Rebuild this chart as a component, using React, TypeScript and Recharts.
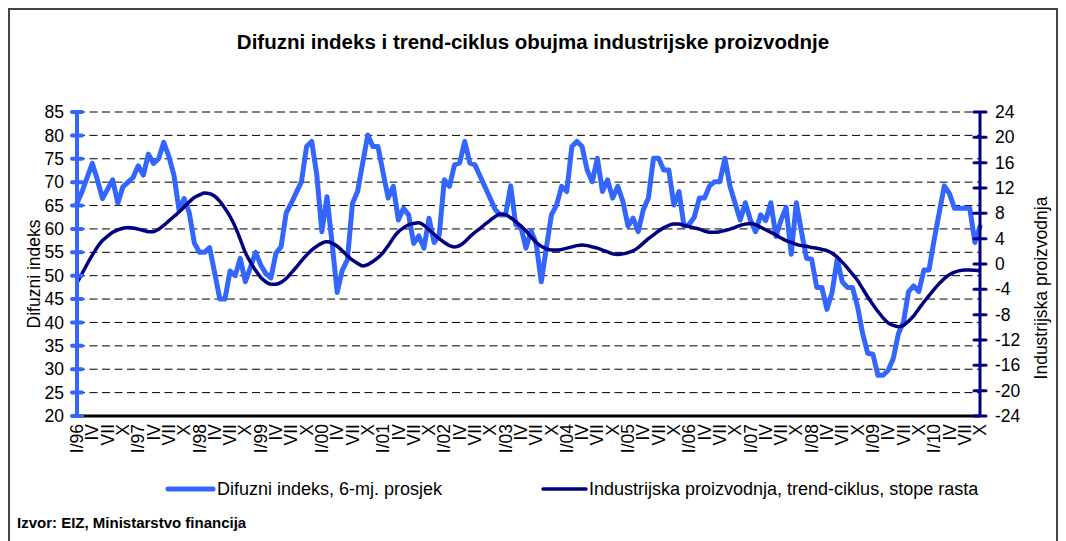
import React from 'react';
import { LineChart, Line, XAxis, YAxis, CartesianGrid } from 'recharts';

const FONT = '"Liberation Sans", Arial, Helvetica, sans-serif';

// Years covered (I/96 .. X/10), monthly observations
const years = ['96', '97', '98', '99', '00', '01', '02', '03', '04', '05', '06', '07', '08', '09', '10'];
const quarterLabels = ['I', 'IV', 'VII', 'X'];

// Difuzni indeks, 6-mj. prosjek (left axis)
const diffusionIndex = [
  65.5, 68, 71, 74, 70.5, 66.5, 68.5, 70.5, 65.5, 69, 70, 71,
  73.5, 71.5, 76, 74, 75, 78.5, 75.5, 71.5, 64, 66.5, 63.5, 57,
  55, 55, 56, 50.5, 45, 45, 51, 50, 53.7, 48.7, 51.8, 55,
  52.3, 50.5, 49.5, 54.8, 56.2, 63.4, 65.5, 67.8, 70.1, 77.6, 78.7, 71.6,
  59.4, 66.9, 57, 46.4, 51.2, 53.4, 65.5, 68, 74.1, 80.1, 77.6, 77.6,
  72, 66.6, 69.1, 61.9, 64.4, 63, 56.9, 58.5, 55.9, 62.3, 57.1, 58.7,
  70.5, 69.1, 73.7, 74.1, 78.7, 74.1, 73.7, 71.3, 68.9, 66.5, 64.1, 63,
  63, 69.2, 60.9, 60.5, 55.9, 59.6, 56.9, 48.7, 56, 63, 65.1, 69.1,
  68, 77.6, 78.7, 77.6, 72.6, 70.1, 75.1, 68, 70.5, 66.6, 69.1, 65.9,
  60.6, 62.3, 59.4, 64.1, 66.6, 75.1, 75.1, 72.6, 72.6, 65.1, 68, 60.5,
  61, 62.5, 66.6, 66.6, 69.2, 70.1, 70.1, 75.1, 69.1, 65.5, 61.9, 65.6,
  61.9, 59.4, 63, 61.8, 65.6, 58.4, 61.9, 64.6, 54.6, 65.6, 59.4, 53.7,
  53.5, 47.5, 47.5, 42.8, 46.4, 53.5, 48.7, 47.5, 47.5, 43.4, 37.6, 33.4,
  33.2, 28.7, 28.7, 29.8, 32.3, 37.6, 40.1, 46.6, 47.8, 46.6, 51.2, 51.2,
  57.6, 63.4, 69.2, 67.6, 64.4, 64.4, 64.4, 64.4, 57.1, 60.5,
];

// Industrijska proizvodnja, trend-ciklus, stope rasta (right axis)
const trendCycle = [
  -3.0, -1.5, 0.0, 1.4, 2.7, 3.7, 4.4, 5.0, 5.4, 5.65, 5.75, 5.7,
  5.5, 5.3, 5.1, 5.1, 5.5, 6.1, 6.8, 7.5, 8.2, 9.0, 9.8, 10.5,
  10.9, 11.2, 11.1, 10.7, 9.9, 8.8, 7.5, 5.9, 3.9, 1.8, 0.3, -1.0,
  -2.1, -2.8, -3.2, -3.2, -2.9, -2.3, -1.4, -0.5, 0.5, 1.4, 2.2, 2.8,
  3.3, 3.5, 3.3, 2.8, 2.1, 1.3, 0.6, 0.1, -0.3, -0.1, 0.4, 1.0,
  1.8, 2.9, 4.1, 5.1, 5.7, 6.2, 6.4, 6.5, 6.1, 5.4, 4.7, 4.0,
  3.4, 2.9, 2.7, 2.9, 3.5, 4.3, 5.0, 5.6, 6.3, 6.9, 7.5, 7.9,
  7.8, 7.3, 6.7, 6.0, 5.2, 4.3, 3.4, 2.8, 2.4, 2.2, 2.2, 2.3,
  2.5, 2.7, 2.9, 3.0, 2.9, 2.7, 2.5, 2.2, 1.9, 1.6, 1.5, 1.6,
  1.8, 2.1, 2.6, 3.3, 4.0, 4.6, 5.2, 5.7, 6.1, 6.3, 6.3, 6.1,
  5.9, 5.7, 5.5, 5.2, 5.0, 5.0, 5.1, 5.3, 5.5, 5.8, 6.1, 6.3,
  6.4, 6.2, 5.8, 5.4, 5.0, 4.6, 4.1, 3.7, 3.4, 3.1, 2.9, 2.8,
  2.6, 2.5, 2.3, 2.1, 1.7, 1.1, 0.3, -0.6, -1.6, -2.6, -3.9, -5.2,
  -6.4, -7.5, -8.5, -9.3, -9.7, -9.9, -9.7, -9.0, -8.2, -7.1, -6.0, -5.0,
  -4.0, -3.1, -2.3, -1.7, -1.3, -1.05, -0.95, -0.95, -1.0, -1.05,
];

const leftTicks = [20, 25, 30, 35, 40, 45, 50, 55, 60, 65, 70, 75, 80, 85];
const rightTicks = [-24, -20, -16, -12, -8, -4, 0, 4, 8, 12, 16, 20, 24];

const data = diffusionIndex.map((v, i) => {
  const yr = years[Math.floor(i / 12)];
  const m = i % 12;
  let label = '';
  if (m === 0) label = `${quarterLabels[0]}/${yr}`;
  else if (m === 3) label = quarterLabels[1];
  else if (m === 6) label = quarterLabels[2];
  else if (m === 9) label = quarterLabels[3];
  return { key: `${yr}-${m + 1}`, label, di: v, ip: trendCycle[i] };
});
const labelByKey: Record<string, string> = {};
data.forEach((d) => { labelByKey[d.key] = d.label; });
const tickKeys = data.filter((d) => d.label !== '').map((d) => d.key);

const BLUE = '#3366FF';
const NAVY = '#000080';
const FS = 17.5;

const XTick = (props: any) => {
  const { x, y, payload } = props;
  return (
    <text x={x} y={y} transform={`rotate(-90, ${x}, ${y})`} textAnchor="end" dy="0.35em"
      fontSize={FS} fontFamily={FONT} fill="#000">{labelByKey[payload.value]}</text>
  );
};

const LeftTick = (props: any) => {
  const { x, y, payload } = props;
  const ax = x + 13;
  return (
    <g>
      <line x1={ax - 5} x2={ax + 5} y1={y} y2={y} stroke={BLUE} strokeWidth={4} strokeLinecap="round" />
      <text x={x} y={y} dy="0.35em" textAnchor="end" fontSize={FS} fontFamily={FONT} fill="#000">{payload.value}</text>
    </g>
  );
};

const RightTick = (props: any) => {
  const { x, y, payload } = props;
  const ax = x - 15;
  return (
    <g>
      <line x1={ax - 6} x2={ax + 6} y1={y} y2={y} stroke={NAVY} strokeWidth={3} strokeLinecap="round" />
      <text x={x} y={y} dy="0.35em" textAnchor="start" fontSize={FS} fontFamily={FONT} fill="#000">{payload.value}</text>
    </g>
  );
};

const LeftTitle = () => (
  <text x={40} y={274} transform="rotate(-90, 40, 274)" textAnchor="middle" fontSize={FS} fontFamily={FONT} fill="#000">Difuzni indeks</text>
);
const RightTitle = () => (
  <text x={1047} y={288} transform="rotate(-90, 1047, 288)" textAnchor="middle" fontSize={FS} fontFamily={FONT} fill="#000">Industrijska proizvodnja</text>
);

export default function App() {
  return (
    <div style={{ position: 'fixed', left: 0, top: 0, width: 1066, height: 541, background: '#fff', overflow: 'hidden', fontFamily: FONT }}>
      <div style={{ position: 'absolute', left: 0, top: 0 }}>
        <LineChart width={1066} height={541} data={data} margin={{ top: 112, right: 26, bottom: 85, left: 17 }}>
          <CartesianGrid yAxisId="left" vertical={false} horizontal stroke="#000" strokeWidth={1} strokeDasharray="8 4.5" />
          <XAxis dataKey="key" ticks={tickKeys} interval={0} height={40} tickSize={6} tickMargin={2}
            tickLine={false} axisLine={{ stroke: '#000', strokeWidth: 3 }} tick={<XTick />} />
          <YAxis yAxisId="left" orientation="left" width={60} domain={[20, 85]} ticks={leftTicks} interval={0}
            tickSize={8} tickMargin={5} tickLine={false} axisLine={{ stroke: BLUE, strokeWidth: 4 }} tick={<LeftTick />}
            label={<LeftTitle />} />
          <YAxis yAxisId="right" orientation="right" width={60} domain={[-24, 24]} ticks={rightTicks} interval={0}
            tickSize={8} tickMargin={7} tickLine={false} axisLine={{ stroke: NAVY, strokeWidth: 3 }} tick={<RightTick />}
            label={<RightTitle />} />
          <Line yAxisId="left" dataKey="di" type="linear" stroke={BLUE} strokeWidth={5} strokeLinejoin="round"
            strokeLinecap="round" dot={false} activeDot={false} isAnimationActive={false} />
          <Line yAxisId="right" dataKey="ip" type="monotone" stroke={NAVY} strokeWidth={3.5} dot={false}
            activeDot={false} isAnimationActive={false} />
        </LineChart>
      </div>
      <svg width={1066} height={541} style={{ position: 'absolute', left: 0, top: 0, pointerEvents: 'none' }}>
        <rect x={9} y={9} width={1048} height={545} fill="none" stroke="#444" strokeWidth={2} />
        <text x={533} y={49} textAnchor="middle" fontSize={20.5} fontWeight="bold" fontFamily={FONT} fill="#000">
          Difuzni indeks i trend-ciklus obujma industrijske proizvodnje
        </text>
        <line x1={168} x2={213} y1={489} y2={489} stroke={BLUE} strokeWidth={5} strokeLinecap="round" />
        <text x={217} y={495} fontSize={18} fontFamily={FONT} fill="#000">Difuzni indeks, 6-mj. prosjek</text>
        <line x1={543} x2={586} y1={489} y2={489} stroke={NAVY} strokeWidth={3.5} strokeLinecap="round" />
        <text x={589} y={495} fontSize={18} fontFamily={FONT} fill="#000">Industrijska proizvodnja, trend-ciklus, stope rasta</text>
        <text x={17} y={528} fontSize={15} fontWeight="bold" fontFamily={FONT} fill="#000">Izvor: EIZ, Ministarstvo financija</text>
      </svg>
    </div>
  );
}
